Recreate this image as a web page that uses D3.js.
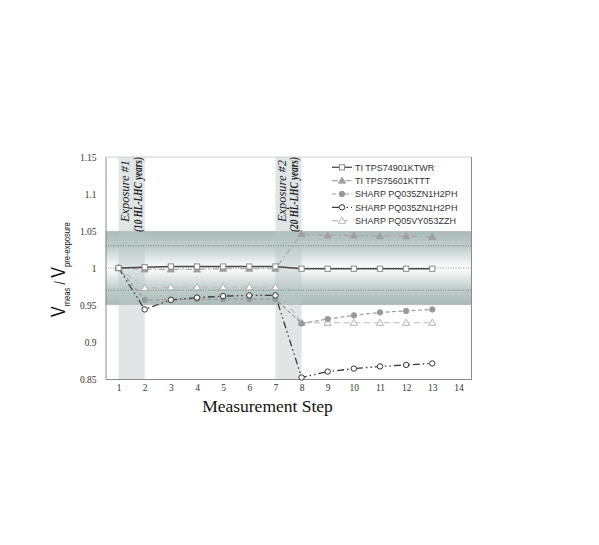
<!DOCTYPE html>
<html><head><meta charset="utf-8">
<script src="https://cdn.jsdelivr.net/npm/d3@7"></script>
<style>body{margin:0;background:#fff}svg{display:block}</style>
</head><body>
<svg id="c" width="599" height="545"></svg>
<script>
const steps = [1,2,3,4,5,6,7,8,9,10,11,12,13];
const seriesNames = ["TI TPS74901KTWR","TI TPS75601KTTT","SHARP PQ035ZN1H2PH","SHARP PQ035ZN1H2PH","SHARP PQ05VY053ZZH"];
const s1 = [1.000,1.001,1.002,1.002,1.002,1.002,1.002,0.999,0.999,0.999,0.999,0.999,0.999];
const s2 = [1.000,0.998,0.998,0.998,0.999,0.999,0.999,1.046,1.044,1.044,1.043,1.043,1.042];
const s3 = [1.000,0.957,0.957,0.958,0.958,0.958,0.958,0.925,0.931,0.936,0.940,0.942,0.944];
const s4 = [1.000,0.944,0.957,0.960,0.962,0.963,0.963,0.852,0.860,0.864,0.867,0.869,0.871];
const s5 = [1.000,0.973,0.974,0.974,0.974,0.974,0.974,0.926,0.926,0.926,0.926,0.926,0.926];
const xTicks = [1,2,3,4,5,6,7,8,9,10,11,12,13,14];
const yTicks = [0.85,0.9,0.95,1,1.05,1.1,1.15];
const refLines = [1.05,1.03,1.0,0.97,0.95];
const exposures = [{from:1,to:2,l1:"Exposure #1",l2:"(10 HL-LHC years)"},{from:7,to:8,l1:"Exposure #2",l2:"(20 HL-LHC years)"}];

const styles = [
  {stroke:"#4a4a4a", dash:null, w:1.3, marker:"square", fill:"#fff", mstroke:"#8a8a8a"},
  {stroke:"#a8a8a8", dash:"6,3,1.5,3", w:1.2, marker:"triangle", fill:"#a0a0a0", mstroke:"#a0a0a0"},
  {stroke:"#9a9a9a", dash:"4,2.5", w:1.2, marker:"circle", fill:"#999", mstroke:"#999"},
  {stroke:"#3c3c3c", dash:"7,3,1.5,3,1.5,3", w:1.3, marker:"circle", fill:"#fff", mstroke:"#333"},
  {stroke:"#bdbdbd", dash:"6,4", w:1.2, marker:"triangle", fill:"#fff", mstroke:"#aaa"}
];
const data = [s1,s2,s3,s4,s5];

const svg = d3.select("#c");
const x = d3.scaleLinear().domain([0.5,14.5]).range([105.5,471.5]);
const y = d3.scaleLinear().domain([0.85,1.15]).range([379,157]);

const defs = svg.append("defs");
const g = defs.append("linearGradient").attr("id","hb").attr("x1",0).attr("y1",0).attr("x2",0).attr("y2",1);
[[0,"#a9bbb9"],[0.22,"#c0cdcb"],[0.5,"#ffffff"],[0.78,"#c0cdcb"],[1,"#a9bbb9"]].forEach(s=>g.append("stop").attr("offset",s[0]).attr("stop-color",s[1]));

svg.append("rect").attr("x",x(0.5)).attr("y",y(1.05)).attr("width",x(14.5)-x(0.5)).attr("height",y(0.95)-y(1.05)).attr("fill","url(#hb)");
exposures.forEach(e=>{
  svg.append("rect").attr("x",x(e.from)).attr("y",y(1.15)).attr("width",x(e.to)-x(e.from)).attr("height",y(0.85)-y(1.15))
    .attr("fill","rgb(185,200,198)").attr("opacity",0.45);
});
refLines.forEach(v=>{
  svg.append("line").attr("x1",x(0.5)).attr("x2",x(14.5)).attr("y1",y(v)).attr("y2",y(v))
    .attr("stroke",(v===1.05||v===0.95)?"#d8dede":"#6a6a6a").attr("stroke-width",0.8).attr("stroke-dasharray","1,1.5");
});
svg.append("line").attr("x1",x(0.5)).attr("x2",x(14.5)).attr("y1",y(1.15)).attr("y2",y(1.15)).attr("stroke","#d0d0d0");
svg.append("line").attr("x1",x(14.5)).attr("x2",x(14.5)).attr("y1",y(1.15)).attr("y2",y(0.85)).attr("stroke","#8a8a8a");

const xa = svg.append("g").attr("transform",`translate(0,${y(0.85)})`).call(d3.axisBottom(x).tickValues(xTicks).tickSize(0).tickPadding(5).tickFormat(d3.format("d")));
const ya = svg.append("g").attr("transform",`translate(${x(0.5)},0)`).call(d3.axisLeft(y).tickValues(yTicks).tickSize(0).tickPadding(9).tickFormat(d=>d3.format("")(d)));
[xa,ya].forEach(a=>{a.select(".domain").attr("stroke","#8a8a8a");a.selectAll("text").attr("font-family","Liberation Serif, serif").attr("font-size",9.5).attr("fill","#333");});

exposures.forEach(e=>{
  const x0 = x(e.from);
  svg.append("text").attr("transform",`translate(${x0+10.5},222) rotate(-90)`)
    .attr("font-family","Liberation Serif, serif").attr("font-style","italic").attr("font-size",13.5).attr("fill","#222")
    .attr("textLength",62).attr("lengthAdjust","spacingAndGlyphs").text(e.l1);
  svg.append("text").attr("transform",`translate(${x0+23},232) rotate(-90)`)
    .attr("font-family","Liberation Serif, serif").attr("font-style","italic").attr("font-weight","bold").attr("font-size",11.5).attr("fill","#222")
    .attr("textLength",75).attr("lengthAdjust","spacingAndGlyphs").text(e.l2);
});

function marker(sel, st, cx, cy){
  if(st.marker==="square"){
    sel.append("rect").attr("x",cx-2.6).attr("y",cy-2.6).attr("width",5.2).attr("height",5.2).attr("fill",st.fill).attr("stroke",st.mstroke).attr("stroke-width",1);
  } else if(st.marker==="circle"){
    sel.append("circle").attr("cx",cx).attr("cy",cy).attr("r",2.7).attr("fill",st.fill).attr("stroke",st.mstroke).attr("stroke-width",1);
  } else {
    sel.append("path").attr("d",d3.symbol().type(d3.symbolTriangle).size(22)()).attr("transform",`translate(${cx},${cy+0.5})`).attr("fill",st.fill).attr("stroke",st.mstroke).attr("stroke-width",0.9);
  }
}

const line = d3.line().x((d,i)=>x(steps[i])).y(d=>y(d));
const order = [4,2,1,3,0];
order.forEach(k=>{
  svg.append("path").attr("d",line(data[k])).attr("fill","none").attr("stroke",styles[k].stroke).attr("stroke-width",styles[k].w)
    .attr("stroke-dasharray",styles[k].dash);
});
order.forEach(k=>{
  const gg = svg.append("g");
  data[k].forEach((v,i)=>marker(gg, styles[k], x(steps[i]), y(v)));
});

const lg = svg.append("g");
seriesNames.forEach((n,i)=>{
  const yy = 167.3 + i*13.35;
  const st = styles[i];
  lg.append("line").attr("x1",332).attr("x2",352).attr("y1",yy).attr("y2",yy).attr("stroke",st.stroke).attr("stroke-width",st.w).attr("stroke-dasharray",st.dash ? st.dash : null);
  marker(lg, st, 342, yy);
  lg.append("text").attr("x",355).attr("y",yy+3.2).attr("font-family","Liberation Sans, Arial, sans-serif").attr("font-size",9).attr("fill","#333").text(n);
});

svg.append("text").attr("x",267.5).attr("y",412).attr("text-anchor","middle").attr("font-family","Liberation Serif, serif").attr("font-size",17.5).attr("fill","#111").text("Measurement Step");

const yt = svg.append("text").attr("transform","translate(65,317) rotate(-90) scale(0.8,1)")
  .attr("font-family","Liberation Sans, Arial, sans-serif").attr("fill","#111");
yt.append("tspan").attr("font-size",20).text("V");
yt.append("tspan").attr("font-size",9.5).attr("dy",5).text("meas");
yt.append("tspan").attr("font-size",15).attr("dy",-5).text(" / ");
yt.append("tspan").attr("font-size",20).text("V");
yt.append("tspan").attr("font-size",9.5).attr("dy",5).text("pre-exposure");
</script>
</body></html>
